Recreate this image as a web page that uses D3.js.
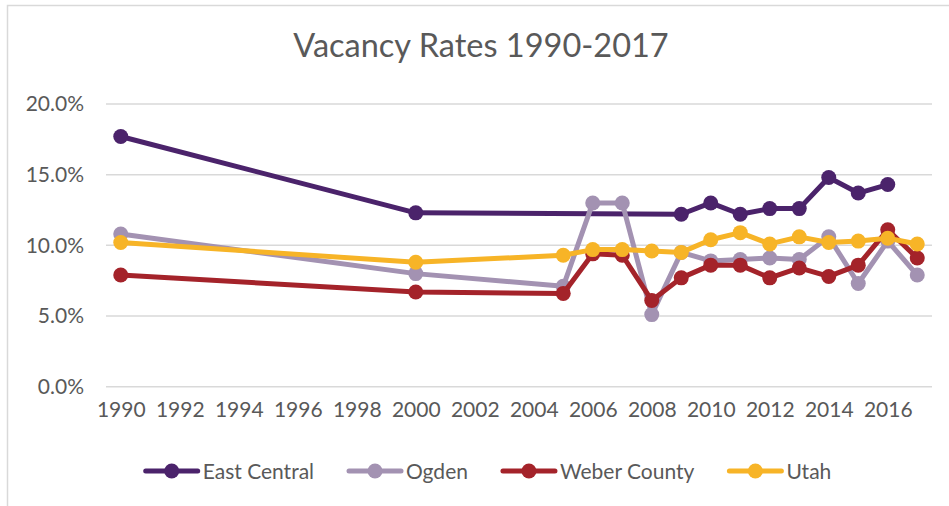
<!DOCTYPE html>
<html>
<head>
<meta charset="utf-8">
<script src="https://cdn.jsdelivr.net/npm/d3@7"></script>
<style>
  body { margin: 0; background: #fff; }
  svg { display: block; font-family: Lato, "Open Sans", sans-serif; }
</style>
</head>
<body>
<svg width="949" height="506"></svg>
<script>
// chart data (vacancy rate, fraction)
var years = d3.range(1990, 2018);
var tickYears = d3.range(1990, 2017, 2);
var yTicks = [0, 0.05, 0.10, 0.15, 0.20];

var eastCentral = [0.177, null, null, null, null, null, null, null, null, null,
  0.123, null, null, null, null, null, null, null, null,
  0.122, 0.130, 0.122, 0.126, 0.126, 0.148, 0.137, 0.143, null];
var ogden = [0.108, null, null, null, null, null, null, null, null, null,
  0.080, null, null, null, null, 0.071, 0.130, 0.130, 0.051,
  0.095, 0.089, 0.090, 0.091, 0.090, 0.106, 0.073, 0.103, 0.079];
var weber = [0.079, null, null, null, null, null, null, null, null, null,
  0.067, null, null, null, null, 0.066, 0.094, 0.093, 0.061,
  0.077, 0.086, 0.086, 0.077, 0.084, 0.078, 0.086, 0.111, 0.091];
var utah = [0.102, null, null, null, null, null, null, null, null, null,
  0.088, null, null, null, null, 0.093, 0.097, 0.097, 0.096,
  0.095, 0.104, 0.109, 0.101, 0.106, 0.102, 0.103, 0.105, 0.101];

var seriesNames = ["East Central", "Ogden", "Weber County", "Utah"];
var seriesColors = ["#4b236b", "#a392b2", "#a4232a", "#f7b427"];
var seriesValues = [eastCentral, ogden, weber, utah];

/***********************************************************************************************/

var svg = d3.select("svg"),
    txt_clr = "#595959",
    grid_clr = "#d9d9d9";

// chart frame (left and top edges are the only visible ones)
svg.append("path").attr("d", "M7.5,520 L7.5,5.5 L960,5.5")
  .style("fill", "none").style("stroke", grid_clr).style("stroke-width", 1.5);

var x = d3.scaleBand().domain(years).range([106, 932]);
var y = d3.scaleLinear().domain([0, 0.2]).range([386.7, 104]);
var cx = d => x(d) + x.bandwidth() / 2;

// title
svg.append("text").attr("x", 481).attr("y", 57).attr("text-anchor", "middle")
  .style("font-size", "32.5px").style("fill", txt_clr).text("Vacancy Rates 1990-2017");

// gridlines
svg.append("g").selectAll("line").data(yTicks).enter().append("line")
  .attr("x1", 106).attr("x2", 932)
  .attr("y1", d => y(d)).attr("y2", d => y(d))
  .style("stroke", grid_clr).style("stroke-width", 1.5);

// y axis labels
var gy = svg.append("g").attr("transform", "translate(84,0)")
  .call(d3.axisLeft(y).tickValues(yTicks).tickFormat(d3.format(".1%")).tickSize(0).tickPadding(0));
gy.select(".domain").remove();
gy.selectAll("text").style("font-size", "21px").style("fill", txt_clr).style("font-family", "Lato, sans-serif");

// x axis labels
var xl = d3.scalePoint().domain(years).range([cx(1990), cx(2017)]);
var gx = svg.append("g").attr("transform", "translate(0,402)")
  .call(d3.axisBottom(xl).tickValues(tickYears).tickSize(0).tickPadding(0));
gx.select(".domain").remove();
gx.selectAll("text").style("font-size", "21px").style("fill", txt_clr).style("font-family", "Lato, sans-serif");

// series
var line = d3.line()
  .x(d => cx(d[0])).y(d => y(d[1]));

seriesValues.forEach((vals, i) => {
  var pts = years.map((yr, j) => [yr, vals[j]]).filter(d => d[1] != null);
  var g = svg.append("g");
  g.append("path").datum(pts).attr("d", line)
    .style("fill", "none").style("stroke", seriesColors[i])
    .style("stroke-width", 5).style("stroke-linejoin", "round").style("stroke-linecap", "round");
  g.selectAll("circle").data(pts).enter().append("circle")
    .attr("cx", d => cx(d[0])).attr("cy", d => y(d[1])).attr("r", 7.5)
    .style("fill", seriesColors[i]);
});

// legend
var lg = svg.append("g"), xpos = 0, gap = 33;
seriesNames.forEach((name, i) => {
  var item = lg.append("g").attr("transform", "translate(" + xpos + ",0)");
  item.append("line").attr("x1", 2).attr("x2", 54).attr("y1", 0).attr("y2", 0)
    .style("stroke", seriesColors[i]).style("stroke-width", 5).style("stroke-linecap", "round");
  item.append("circle").attr("cx", 28).attr("cy", 0).attr("r", 7.5).style("fill", seriesColors[i]);
  var t = item.append("text").attr("x", 59).attr("y", 7.5).style("font-size", "21px")
    .style("fill", txt_clr).text(name);
  xpos += 59 + t.node().getComputedTextLength() + gap;
});
var lw = xpos - gap;
lg.attr("transform", "translate(" + (487.5 - lw / 2) + ",471)");
</script>
</body>
</html>
